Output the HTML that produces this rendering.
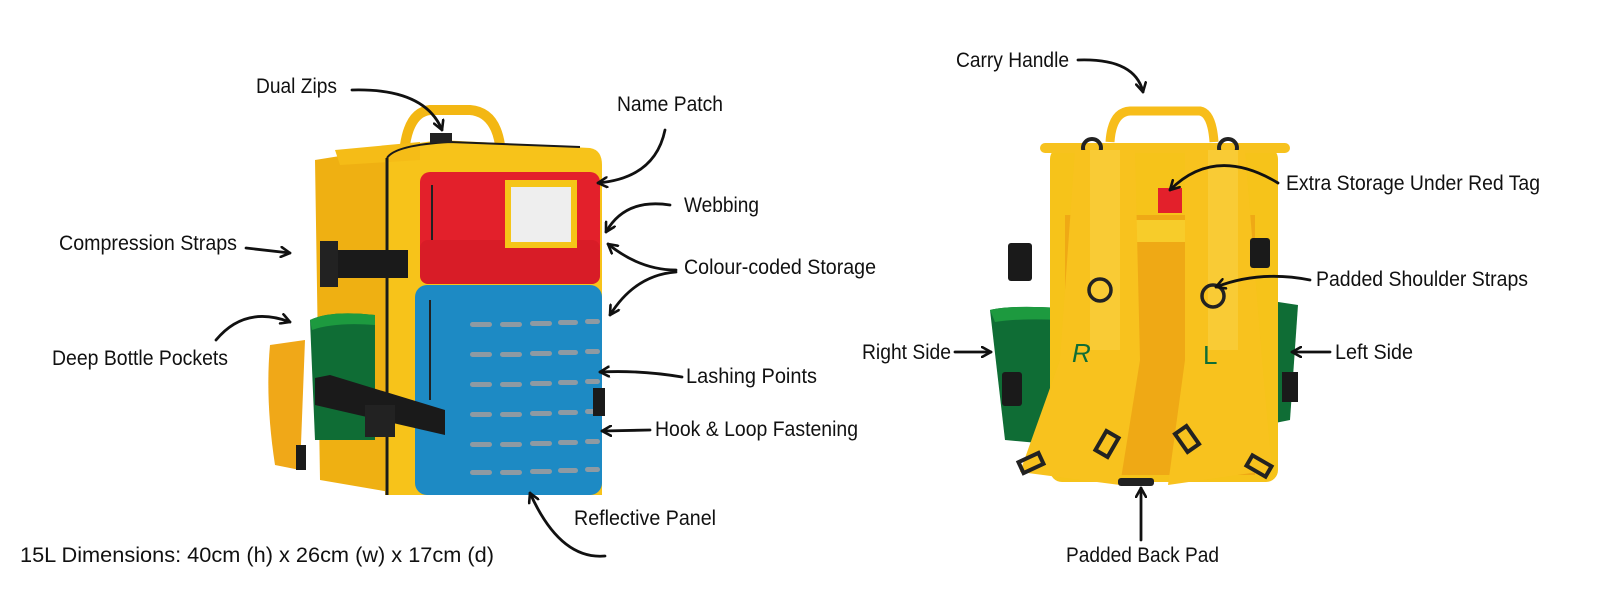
<!DOCTYPE html>
<html><head><meta charset="utf-8"><style>
html,body{margin:0;padding:0;background:#fff;width:1600px;height:600px;overflow:hidden}
svg text{font-family:"Liberation Sans",sans-serif;font-size:21px;fill:#111}
</style></head><body>
<svg width="1600" height="600" viewBox="0 0 1600 600" xmlns="http://www.w3.org/2000/svg">
<defs>
<marker id="ah" viewBox="0 0 12 12" refX="10" refY="6" markerWidth="12" markerHeight="12" markerUnits="userSpaceOnUse" orient="auto">
<path d="M1,1 L10,6 L1,11" fill="none" stroke="#111" stroke-width="2.6" stroke-linecap="round" stroke-linejoin="round"/>
</marker>
</defs>

<!-- LEFT BACKPACK -->
<path d="M405,145 Q410,112 430,110 L470,110 Q495,112 500,145" fill="none" stroke="#f3b713" stroke-width="10"/>
<path d="M270,345 Q265,400 275,465 L300,470 L305,340 Z" fill="#f0a818"/>
<path d="M315,160 L390,148 L390,492 L320,480 Z" fill="#efb012"/>
<path d="M385,148 L440,140 L590,148 Q602,150 602,165 L602,495 L385,495 Z" fill="#f7c31a"/>
<path d="M335,150 L420,142 L420,160 L340,165 Z" fill="#f5bc17"/>
<line x1="387" y1="158" x2="387" y2="495" stroke="#1a1a1a" stroke-width="3"/>
<path d="M387,158 Q395,145 450,142 L580,147" fill="none" stroke="#1a1a1a" stroke-width="2"/>
<rect x="430" y="133" width="22" height="10" fill="#222"/>
<!-- red pouch -->
<rect x="420" y="172" width="180" height="112" rx="10" fill="#e3202b"/>
<rect x="420" y="240" width="180" height="44" rx="8" fill="#d81c27"/>
<line x1="432" y1="185" x2="432" y2="240" stroke="#222" stroke-width="2"/>
<rect x="505" y="180" width="72" height="68" fill="#f5c518"/>
<rect x="511" y="187" width="60" height="55" fill="#eeeeee"/>
<!-- blue pouch -->
<rect x="415" y="285" width="187" height="210" rx="12" fill="#1d8ac4"/>
<line x1="430" y1="300" x2="430" y2="400" stroke="#222" stroke-width="2"/>
<g fill="#8e9aa3">
<g id="row"><rect x="470" y="322" width="22" height="5" rx="2.5"/><rect x="500" y="322" width="22" height="5" rx="2.5"/><rect x="530" y="321" width="22" height="5" rx="2.5"/><rect x="558" y="320" width="20" height="5" rx="2.5"/><rect x="585" y="319" width="15" height="5" rx="2.5"/></g>
<use href="#row" y="30"/><use href="#row" y="60"/><use href="#row" y="90"/><use href="#row" y="120"/><use href="#row" y="148"/>
</g>
<!-- green pocket -->
<path d="M310,320 Q330,310 375,315 L375,440 L315,440 Z" fill="#0f6d35"/>
<path d="M310,320 Q330,310 375,315 L375,325 Q335,322 312,330 Z" fill="#1d9a3f"/>
<!-- straps -->
<rect x="320" y="250" width="88" height="28" fill="#1a1a1a"/>
<rect x="320" y="241" width="18" height="46" fill="#222"/>
<path d="M315,378 L330,375 L445,410 L445,435 L315,405 Z" fill="#1a1a1a"/>
<rect x="365" y="405" width="30" height="32" fill="#222"/>
<rect x="593" y="388" width="12" height="28" fill="#1a1a1a"/>
<rect x="296" y="445" width="10" height="25" fill="#1a1a1a"/>

<!-- RIGHT BACKPACK -->
<path d="M1110,142 Q1112,112 1130,111 L1200,111 Q1212,113 1214,142" fill="none" stroke="#f7bd1a" stroke-width="9"/>
<path d="M990,310 Q1010,305 1060,308 L1060,445 L1005,440 Z" fill="#0f6d35"/>
<path d="M990,310 Q1010,305 1060,308 L1060,320 Q1020,318 995,322 Z" fill="#1d9a3f"/>
<path d="M1265,300 L1298,305 L1290,420 L1265,425 Z" fill="#0f6d35"/>
<rect x="1050" y="147" width="228" height="335" rx="12" fill="#f6c31a"/>
<rect x="1065" y="215" width="190" height="260" fill="#efa915"/>
<rect x="1040" y="143" width="250" height="10" rx="5" fill="#f7c21e"/>
<circle cx="1092" cy="148" r="9" fill="none" stroke="#222" stroke-width="4"/>
<circle cx="1228" cy="148" r="9" fill="none" stroke="#222" stroke-width="4"/>
<rect x="1158" y="188" width="24" height="25" fill="#e3202b"/>
<rect x="1070" y="220" width="180" height="22" fill="#f7cc2a"/>
<path d="M1075,150 L1135,150 L1140,360 L1120,485 L1020,472 L1060,360 Z" fill="#f8c21e"/>
<path d="M1185,150 L1245,150 L1262,360 L1272,470 L1168,485 L1185,360 Z" fill="#f8c21e"/>
<rect x="1090" y="150" width="30" height="200" fill="#f9cb35"/>
<rect x="1208" y="150" width="30" height="200" fill="#f9cb35"/>
<circle cx="1100" cy="290" r="11" fill="none" stroke="#222" stroke-width="3.5"/>
<circle cx="1213" cy="296" r="11" fill="none" stroke="#222" stroke-width="3.5"/>
<rect x="1008" y="243" width="24" height="38" rx="3" fill="#1a1a1a"/>
<rect x="1250" y="238" width="20" height="30" rx="3" fill="#1a1a1a"/>
<rect x="1002" y="372" width="20" height="34" rx="3" fill="#1a1a1a"/>
<rect x="1282" y="372" width="16" height="30" fill="#1a1a1a"/>
<text x="1072" y="362" style="font-size:26px;fill:#0f6d35;font-style:italic">R</text>
<text x="1203" y="364" style="font-size:26px;fill:#0f6d35">L</text>
<rect x="1100" y="433" width="14" height="22" fill="none" stroke="#222" stroke-width="4" transform="rotate(30 1107 444)"/>
<rect x="1180" y="428" width="14" height="22" fill="none" stroke="#222" stroke-width="4" transform="rotate(-35 1187 439)"/>
<rect x="1020" y="457" width="22" height="12" fill="none" stroke="#222" stroke-width="4" transform="rotate(-25 1031 463)"/>
<rect x="1248" y="460" width="22" height="12" fill="none" stroke="#222" stroke-width="4" transform="rotate(30 1259 466)"/>
<rect x="1118" y="478" width="36" height="8" rx="3" fill="#222"/>

<!-- ARROWS -->
<g fill="none" stroke="#111" stroke-width="2.8" stroke-linecap="round" marker-end="url(#ah)">
<path d="M352,90 Q425,88 442,130"/>
<path d="M665,130 Q655,178 598,183"/>
<path d="M670,205 Q625,198 606,232"/>
<path d="M676,270 Q640,270 608,244"/>
<path d="M676,272 Q635,275 610,315"/>
<path d="M246,248 L290,253"/>
<path d="M216,340 Q245,305 290,322"/>
<path d="M682,377 Q640,370 600,372"/>
<path d="M650,430 L602,431"/>
<path d="M605,556 Q560,560 530,493"/>
<path d="M1078,60 Q1135,58 1143,92"/>
<path d="M1278,183 Q1215,145 1170,190"/>
<path d="M1310,280 Q1260,270 1216,287"/>
<path d="M955,352 L991,352"/>
<path d="M1330,352 L1292,352"/>
<path d="M1141,540 L1141,488"/>
</g>

<!-- LABELS -->
<text x="256" y="93" textLength="81" lengthAdjust="spacingAndGlyphs">Dual Zips</text>
<text x="617" y="111" textLength="106" lengthAdjust="spacingAndGlyphs">Name Patch</text>
<text x="684" y="212" textLength="75" lengthAdjust="spacingAndGlyphs">Webbing</text>
<text x="59" y="250" textLength="178" lengthAdjust="spacingAndGlyphs">Compression Straps</text>
<text x="684" y="274" textLength="192" lengthAdjust="spacingAndGlyphs">Colour-coded Storage</text>
<text x="52" y="365" textLength="176" lengthAdjust="spacingAndGlyphs">Deep Bottle Pockets</text>
<text x="686" y="383" textLength="131" lengthAdjust="spacingAndGlyphs">Lashing Points</text>
<text x="655" y="436" textLength="203" lengthAdjust="spacingAndGlyphs">Hook &amp; Loop Fastening</text>
<text x="574" y="525" textLength="142" lengthAdjust="spacingAndGlyphs">Reflective Panel</text>
<text x="20" y="562" textLength="474" lengthAdjust="spacingAndGlyphs">15L Dimensions: 40cm (h) x 26cm (w) x 17cm (d)</text>
<text x="956" y="67" textLength="113" lengthAdjust="spacingAndGlyphs">Carry Handle</text>
<text x="1286" y="190" textLength="254" lengthAdjust="spacingAndGlyphs">Extra Storage Under Red Tag</text>
<text x="1316" y="286" textLength="212" lengthAdjust="spacingAndGlyphs">Padded Shoulder Straps</text>
<text x="862" y="359" textLength="89" lengthAdjust="spacingAndGlyphs">Right Side</text>
<text x="1335" y="359" textLength="78" lengthAdjust="spacingAndGlyphs">Left Side</text>
<text x="1066" y="562" textLength="153" lengthAdjust="spacingAndGlyphs">Padded Back Pad</text>
</svg>
</body></html>
